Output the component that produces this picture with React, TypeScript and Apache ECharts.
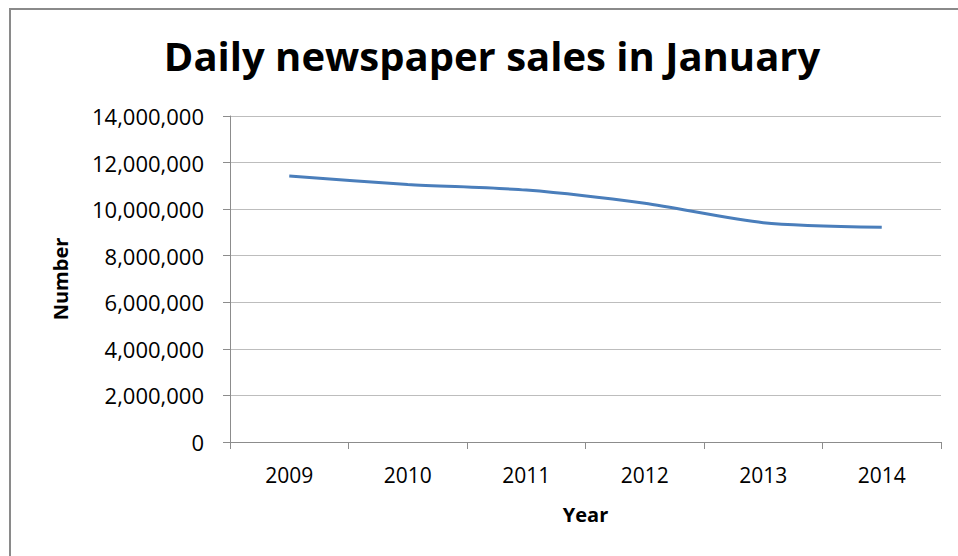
import React, { useEffect, useRef } from "react";
import * as echarts from "echarts";

const years = ["2009", "2010", "2011", "2012", "2013", "2014"];
const sales = [11420000, 11060000, 10820000, 10250000, 9420000, 9220000];
const yTicks = { min: 0, max: 14000000, interval: 2000000 };

const FONT = "'Open Sans', 'Noto Sans', sans-serif";

export default function App() {
  const ref = useRef<HTMLDivElement>(null);
  useEffect(() => {
    const chart = echarts.init(ref.current!, null, { renderer: "svg" });
    chart.setOption({
      animation: false,
      backgroundColor: "#ffffff",
      title: {
        text: "Daily newspaper sales in January",
        left: 487,
        textAlign: "center",
        top: 30,
        textStyle: { fontFamily: FONT, fontWeight: "bold", fontSize: 40, color: "#000" },
      },
      graphic: [
        {
          type: "rect",
          shape: { x: 10, y: 9, width: 1000, height: 600 },
          style: { fill: "none", stroke: "#8a8a8a", lineWidth: 2 },
        },
      ],
      grid: { left: 230, right: 17, top: 116, bottom: 114 },
      xAxis: {
        type: "category",
        data: years,
        boundaryGap: true,
        name: "Year",
        nameLocation: "middle",
        nameGap: 62,
        nameTextStyle: { fontFamily: FONT, fontWeight: "bold", fontSize: 20, color: "#000" },
        axisLine: { lineStyle: { color: "#8c8c8c", width: 1 } },
        axisTick: { show: true, length: 7, lineStyle: { color: "#8c8c8c" } },
        axisLabel: { fontFamily: FONT, fontSize: 21, color: "#000", margin: 22 },
      },
      yAxis: {
        type: "value",
        min: yTicks.min,
        max: yTicks.max,
        interval: yTicks.interval,
        name: "Number",
        nameLocation: "middle",
        nameGap: 160,
        nameRotate: 90,
        nameTextStyle: { fontFamily: FONT, fontWeight: "bold", fontSize: 20, color: "#000" },
        axisLine: { show: true, lineStyle: { color: "#8c8c8c", width: 1 } },
        axisTick: { show: true, length: 7, lineStyle: { color: "#8c8c8c" } },
        axisLabel: {
          fontFamily: FONT,
          fontSize: 22,
          color: "#000",
          margin: 26,
          formatter: (v: number) => v.toLocaleString("en-US"),
        },
        splitLine: { lineStyle: { color: "#bdbdbd", width: 1 } },
      },
      series: [
        {
          type: "line",
          data: sales,
          smooth: 0.25,
          showSymbol: false,
          lineStyle: { color: "#4a7ebb", width: 3 },
          itemStyle: { color: "#4a7ebb" },
        },
      ],
    });
    return () => chart.dispose();
  }, []);
  return (
    <div
      ref={ref}
      style={{ position: "fixed", left: 0, top: 0, width: 958, height: 556 }}
    />
  );
}
